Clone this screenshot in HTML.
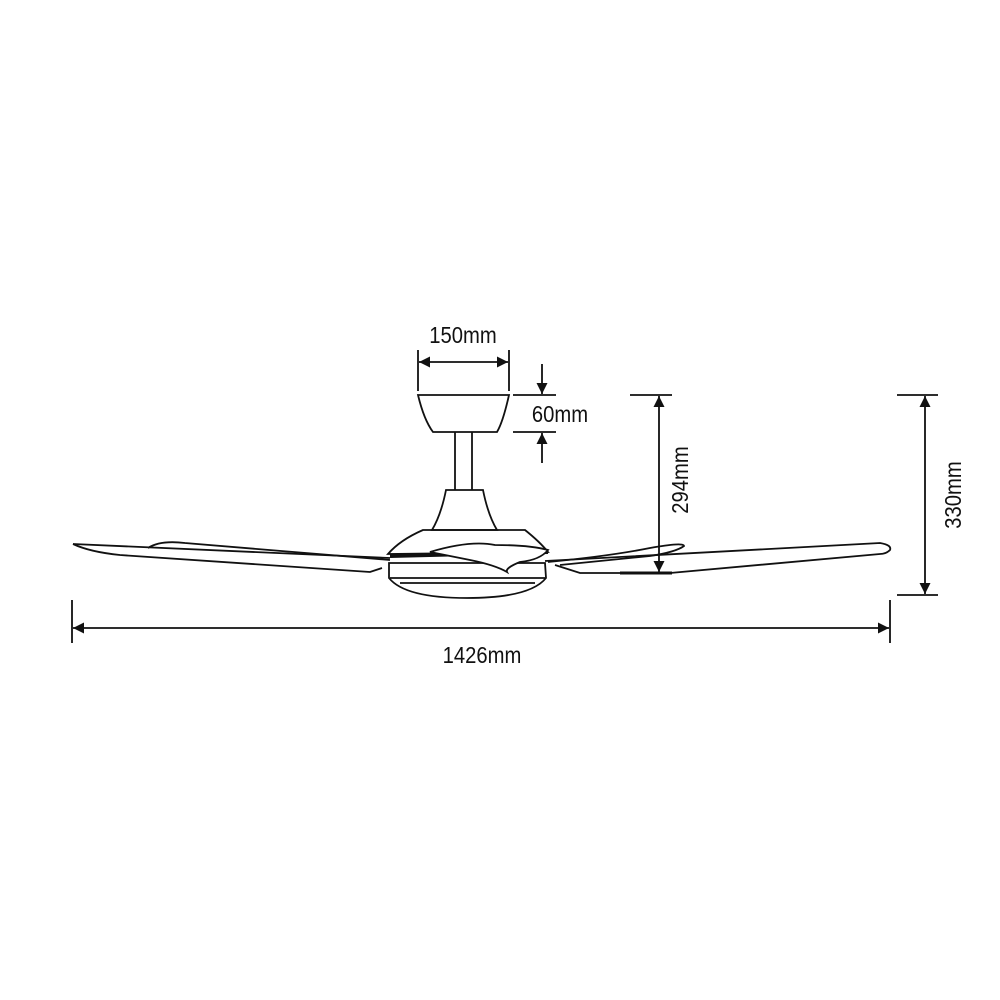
<!DOCTYPE html>
<html><head><meta charset="utf-8"><style>
html,body{margin:0;padding:0;background:#fff;}
svg{display:block;}
text{font-family:"Liberation Sans",sans-serif;fill:#111;}
</style></head><body>
<svg width="1000" height="1000" viewBox="0 0 1000 1000" xmlns="http://www.w3.org/2000/svg">
<defs>
<marker id="a" viewBox="0 0 10 10" refX="10" refY="5" markerWidth="16" markerHeight="11" markerUnits="userSpaceOnUse" orient="auto-start-reverse"><path d="M0,0 L10,5 L0,10 Z" fill="#111"/></marker>
</defs>
<g stroke="#111" fill="none" stroke-width="1.8">
<line x1="418" y1="350" x2="418" y2="391"/>
<line x1="509" y1="350" x2="509" y2="391"/>
<line x1="419" y1="362" x2="508" y2="362" marker-start="url(#a)" marker-end="url(#a)"/>
<line x1="513" y1="395" x2="556" y2="395"/>
<line x1="513" y1="432" x2="556" y2="432"/>
<line x1="542" y1="364" x2="542" y2="394" marker-end="url(#a)"/>
<line x1="542" y1="463" x2="542" y2="433" marker-end="url(#a)"/>
<path d="M418,395 L509,395 Q503,422 497,432 L433,432 Q424,420 418,395 Z"/>
<line x1="455" y1="432" x2="455" y2="490"/>
<line x1="472" y1="432" x2="472" y2="490"/>
<path d="M446,490 L483,490 Q488,515 497,530 L432,530 Q441,515 446,490 Z"/>
<path d="M423,530 L525,530 Q540,542 548,552 L388,554 Q400,540 423,530 Z"/>
<path d="M390,556 L548,552" stroke-width="4"/>
<path d="M389,563 L545,563 L546,578 Q530,598 467,598 Q405,598 389,578 Z"/>
<line x1="390" y1="578" x2="545" y2="578"/>
<line x1="400" y1="583" x2="535" y2="583"/>
<path d="M430,552 Q470,540 495,545 Q530,545 548,550 Q540,560 520,562 Q505,568 507,572 Q495,565 470,560 Z" fill="#fff"/>
<path d="M73,544 L390,558"/>
<path d="M73,544 Q90,552 120,555 L370,572 L382,568"/>
<path d="M148,548 Q160,540 185,543 L390,560"/>
<path d="M548,562 Q610,556 650,548 Q684,542 684,546 Q676,552 650,556 L560,565"/>
<path d="M545,561 L880,543 Q892,545 890,550 Q886,554 880,554 L670,573 L580,573 L555,565"/>
<path d="M620,573 L672,573" stroke-width="3"/>
<line x1="630" y1="395" x2="672" y2="395"/>
<line x1="630" y1="573" x2="672" y2="573"/>
<line x1="659" y1="396" x2="659" y2="572" marker-start="url(#a)" marker-end="url(#a)"/>
<line x1="897" y1="395" x2="938" y2="395"/>
<line x1="897" y1="595" x2="938" y2="595"/>
<line x1="925" y1="396" x2="925" y2="594" marker-start="url(#a)" marker-end="url(#a)"/>
<line x1="72" y1="600" x2="72" y2="643"/>
<line x1="890" y1="600" x2="890" y2="643"/>
<line x1="73" y1="628" x2="889" y2="628" marker-start="url(#a)" marker-end="url(#a)"/>
</g>
<g font-size="23" stroke="none">
<text x="463" y="343" text-anchor="middle" transform="translate(463 0) scale(0.88 1) translate(-463 0)">150mm</text>
<text x="560" y="422" text-anchor="middle" transform="translate(560 0) scale(0.88 1) translate(-560 0)">60mm</text>
<text x="482" y="663" text-anchor="middle" transform="translate(482 0) scale(0.88 1) translate(-482 0)">1426mm</text>
<text transform="translate(688 480) rotate(-90) scale(0.88 1)" text-anchor="middle">294mm</text>
<text transform="translate(961 495) rotate(-90) scale(0.88 1)" text-anchor="middle">330mm</text>
</g>
</svg>
</body></html>
